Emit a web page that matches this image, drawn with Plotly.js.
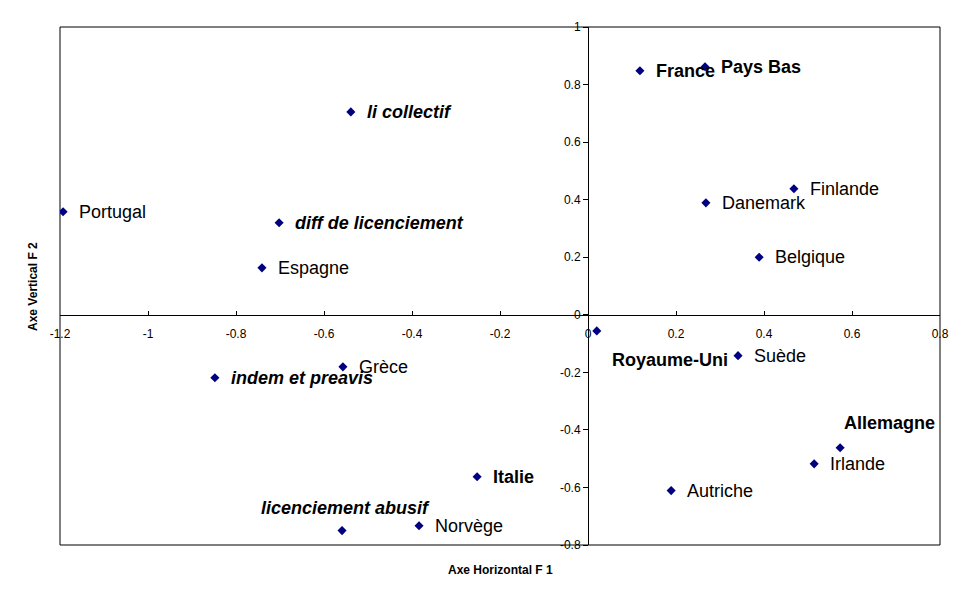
<!DOCTYPE html>
<html>
<head>
<meta charset="utf-8">
<script src="https://cdn.plot.ly/plotly-3.0.1.min.js"></script>
<style>html,body{margin:0;padding:0;background:#fff;}#chart{width:970px;height:603px;}</style>
</head>
<body>
<div id="chart"></div>
<script>
// ---- data ----
const labels = ["Portugal","li collectif","diff de licenciement","Espagne","France","Pays Bas","Finlande","Danemark","Belgique","Royaume-Uni","Suède","Grèce","indem et preavis","Allemagne","Irlande","Italie","Autriche","Norvège","licenciement abusif"];
const f1 = [-1.193,-0.539,-0.702,-0.741,0.118,0.266,0.468,0.268,0.389,0.020,0.341,-0.557,-0.848,0.573,0.514,-0.252,0.189,-0.384,-0.559];
const f2 = [0.358,0.705,0.320,0.163,0.848,0.862,0.438,0.389,0.200,-0.056,-0.142,-0.181,-0.219,-0.462,-0.518,-0.563,-0.611,-0.733,-0.750];
const xTickVals = [-1.2,-1,-0.8,-0.6,-0.4,-0.2,0,0.2,0.4,0.6,0.8];
const xTickText = ["-1.2","-1","-0.8","-0.6","-0.4","-0.2","0","0.2","0.4","0.6","0.8"];
const yTickVals = [-0.8,-0.6,-0.4,-0.2,0,0.2,0.4,0.6,0.8,1];
const yTickText = ["-0.8","-0.6","-0.4","-0.2","0","0.2","0.4","0.6","0.8","1"];
const xTitle = "Axe Horizontal F 1";
const yTitle = "Axe Vertical F 2";

// ---- label styling (not data) ----
const labelStyle = {
  "France":"b","Pays Bas":"b","Royaume-Uni":"b","Allemagne":"b","Italie":"b",
  "li collectif":"bi","diff de licenciement":"bi","indem et preavis":"bi","licenciement abusif":"bi"
};
const labelOffset = { // [xshift, yshift, xanchor]
  "Royaume-Uni":[13,-29,"left"],
  "Allemagne":[2,25,"left"],
  "licenciement abusif":[3,23,"center"]
};
const FONT = "Liberation Sans, Arial, sans-serif";

const annotations = labels.map((t,i)=>{
  const st = labelStyle[t] || "n";
  const off = labelOffset[t] || [14,0,"left"];
  return {
    x:f1[i], y:f2[i], xref:"x", yref:"y", text:t, showarrow:false,
    xanchor:off[2], yanchor:"middle", xshift:off[0], yshift:off[1],
    font:{family:FONT, size:18, color:"#000",
      weight: st==="n" ? "normal" : "bold",
      style: st==="bi" ? "italic" : "normal"}
  };
});
annotations.push({
  text:xTitle, xref:"paper", yref:"paper", x:0.5, y:-0.0483, xanchor:"center", yanchor:"middle",
  showarrow:false, font:{family:FONT, size:12, color:"#000", weight:"bold"}
});
annotations.push({
  text:yTitle, xref:"paper", yref:"paper", x:-0.0307, y:0.5, xanchor:"center", yanchor:"middle",
  textangle:-90, showarrow:false, font:{family:FONT, size:12, color:"#000", weight:"bold"}
});

const trace = {
  x:f1, y:f2, mode:"markers", type:"scatter",
  marker:{symbol:"diamond", size:7, color:"#000080"},
  hoverinfo:"none"
};

const layout = {
  width:970, height:603,
  margin:{l:60, r:30, t:27, b:58, autoexpand:false},
  paper_bgcolor:"#fff", plot_bgcolor:"#fff",
  showlegend:false,
  xaxis:{
    range:[-1.2,0.8], anchor:"free", position:0.8/1.8,
    showgrid:false, zeroline:false, showline:true, linecolor:"#000", linewidth:1,
    ticks:"inside", ticklen:4, tickcolor:"#000", tickwidth:1,
    tickvals:xTickVals, ticktext:xTickText, ticklabelstandoff:8,
    tickfont:{family:FONT, size:12, color:"#000"}
  },
  yaxis:{
    range:[-0.8,1], anchor:"free", position:0.6,
    showgrid:false, zeroline:false, showline:true, linecolor:"#000", linewidth:1,
    ticks:"outside", ticklen:5, tickcolor:"#000", tickwidth:1,
    tickvals:yTickVals, ticktext:yTickText,
    tickfont:{family:FONT, size:12, color:"#000"}
  },
  shapes:[{type:"rect", xref:"paper", yref:"paper", x0:0, x1:1, y0:0, y1:1,
    line:{color:"#000", width:1}, fillcolor:"rgba(0,0,0,0)", layer:"below"}],
  annotations:annotations
};

Plotly.newPlot("chart", [trace], layout, {displayModeBar:false, staticPlot:true});
</script>
</body>
</html>
